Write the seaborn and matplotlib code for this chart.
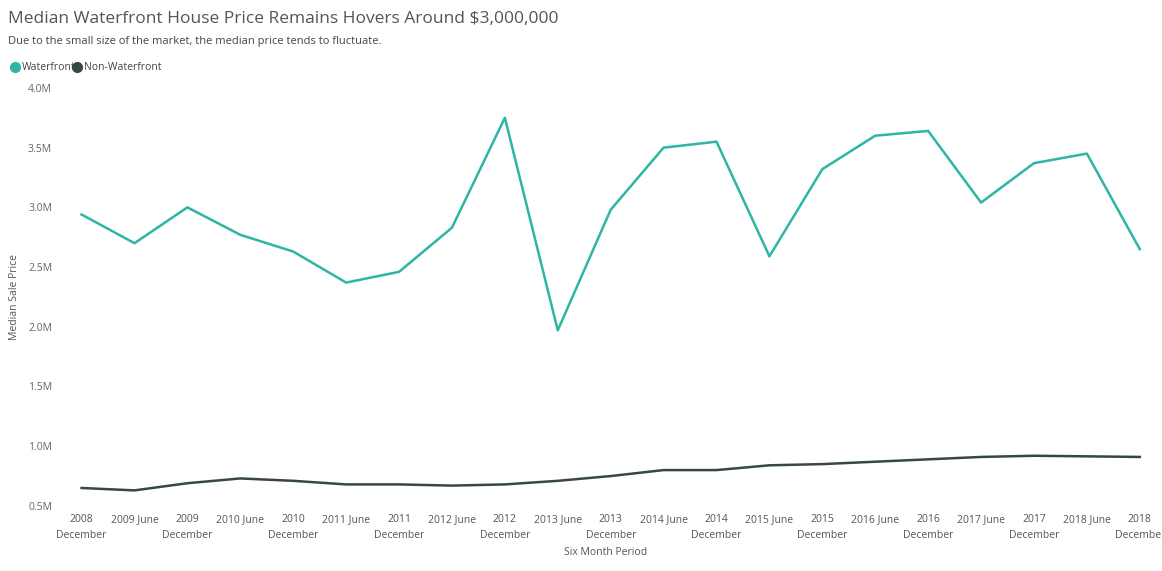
import matplotlib
matplotlib.use("Agg")
import matplotlib.pyplot as plt
from matplotlib.lines import Line2D
import seaborn as sns
import pandas as pd

periods = ["2008\nDecember", "2009 June", "2009\nDecember", "2010 June", "2010\nDecember",
           "2011 June", "2011\nDecember", "2012 June", "2012\nDecember", "2013 June",
           "2013\nDecember", "2014 June", "2014\nDecember", "2015 June", "2015\nDecember",
           "2016 June", "2016\nDecember", "2017 June", "2017\nDecember", "2018 June", "2018\nDecember"]
waterfront = [2.94, 2.70, 3.00, 2.77, 2.63, 2.37, 2.46, 2.83, 3.75, 1.97, 2.98,
              3.50, 3.55, 2.59, 3.32, 3.60, 3.64, 3.04, 3.37, 3.45, 2.65]
non_waterfront = [0.65, 0.63, 0.69, 0.73, 0.71, 0.68, 0.68, 0.67, 0.68, 0.71, 0.75,
                  0.80, 0.80, 0.84, 0.85, 0.87, 0.89, 0.91, 0.92, 0.915, 0.91]
y_ticks = [0.5, 1.0, 1.5, 2.0, 2.5, 3.0, 3.5, 4.0]

plt.rcParams["font.family"] = "Open Sans"
df = pd.DataFrame({"idx": list(range(len(periods))) * 2,
                   "price": waterfront + non_waterfront,
                   "series": ["Waterfront"] * len(periods) + ["Non-Waterfront"] * len(periods)})
teal, dark = "#2DB5A5", "#374649"
fig = plt.figure(figsize=(11.62, 5.71), dpi=100)
ax = fig.add_axes([0.052, 0.114, 0.938, 0.732])
sns.lineplot(data=df, x="idx", y="price", hue="series", palette={"Waterfront": teal, "Non-Waterfront": dark},
             linewidth=1.8, ax=ax, legend=False)
ax.set_xlim(-0.4, 20.2)
ax.set_ylim(0.5, 4.0)
ax.set_yticks(y_ticks)
ax.set_yticklabels([f"{v:.1f}M" for v in y_ticks], fontsize=7.5, color="#666666")
ax.set_xticks(range(len(periods)))
ax.set_xticklabels(periods, fontsize=7.5, color="#555555", linespacing=1.6)
ax.tick_params(length=0, pad=6)
for s in ax.spines.values():
    s.set_visible(False)
ax.set_xlabel("Six Month Period", fontsize=7.5, color="#555555", labelpad=4)
ax.set_ylabel("Median Sale Price", fontsize=7.5, color="#555555", labelpad=6)
fig.text(0.007, 0.967, "Median Waterfront House Price Remains Hovers Around $3,000,000",
         fontsize=12.5, color="#555555", va="center")
fig.text(0.007, 0.927, "Due to the small size of the market, the median price tends to fluctuate.",
         fontsize=8, color="#444444", va="center")
y_leg = 0.882
fig.add_artist(Line2D([0.0125], [y_leg], marker="o", color=teal, markersize=7, transform=fig.transFigure))
fig.text(0.019, y_leg, "Waterfront", color="#444444", fontsize=7.5, va="center")
fig.add_artist(Line2D([0.066], [y_leg], marker="o", color=dark, markersize=7, transform=fig.transFigure))
fig.text(0.0725, y_leg, "Non-Waterfront", color="#444444", fontsize=7.5, va="center")
fig.savefig("out.png", dpi=100)
